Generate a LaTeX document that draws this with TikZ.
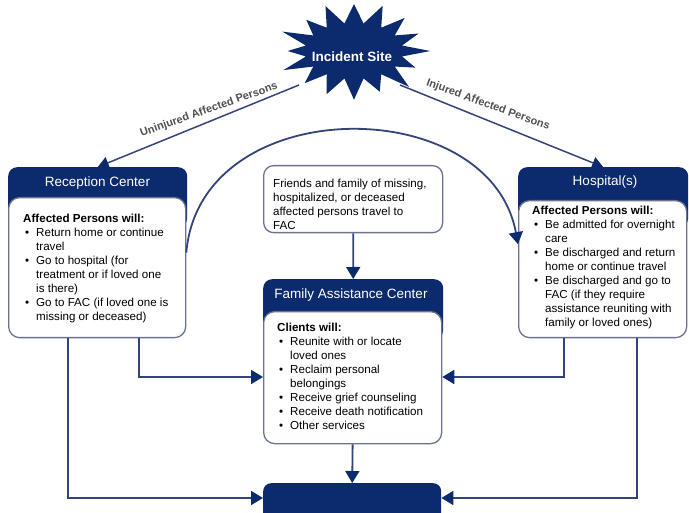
\documentclass[tikz,border=0pt]{standalone}
\usepackage{fontspec}
\setmainfont{Liberation Sans}
\usetikzlibrary{arrows.meta,calc}
\definecolor{navy}{HTML}{0C2A6E}
\definecolor{lineblue}{HTML}{34447A}
\definecolor{boxborder}{HTML}{6B7390}
\definecolor{lblgray}{HTML}{505050}
\newcommand{\bulx}{\makebox[13pt][l]{\hspace{2pt}\textbullet}}
\newcommand{\indx}{\hspace*{13pt}}
\begin{document}
\begin{tikzpicture}[x=1pt,y=-1pt,
  hdr/.style={fill=navy, rounded corners=9pt, inner sep=0, anchor=north west},
  bodybox/.style={fill=white, draw=boxborder, line width=1.3pt, rounded corners=11pt, inner sep=0, anchor=north west},
  hdrtext/.style={text=white, font=\fontsize{13.5}{16}\selectfont, inner sep=0},
  bodytext/.style={align=left, anchor=north west, inner sep=0, font=\fontsize{11.6}{14.1}\selectfont},
  conn/.style={draw=lineblue, line width=1.8pt, -{Triangle[length=12pt,width=14pt,color=navy]}},
  flow/.style={draw=lineblue, line width=1.5pt, -{Triangle[length=11pt,width=12pt,color=navy]}},
  lbl/.style={text=lblgray, font=\bfseries\fontsize{11}{13}\selectfont, inner sep=0}
]
\useasboundingbox (0,0) rectangle (689,513);

% incident site star
\fill[navy] plot[variable=\k, samples at={0,...,31}]
  ({354+(isodd(\k)?49:72*(1+0.08*sin(\k*77)))*cos(90+\k*11.25)},
   {51-(isodd(\k)?28:47*(1+0.08*sin(\k*77)))*sin(90+\k*11.25)}) -- cycle;
\node[font=\bfseries\fontsize{13.5}{16}\selectfont, text=white, inner sep=0] (inc) at (352,57) {Incident Site};
\coordinate (incL) at (299,85);
\coordinate (incR) at (400,85);

% Reception Center
\node[hdr, minimum width=179pt, minimum height=60pt] (rch) at (8,167) {};
\node[bodybox, minimum width=177pt, minimum height=140pt] (rcb) at (8,197) {};
\node[hdrtext] (rct) at (97.5,183) {Reception Center};
\node[bodytext] (rctx) at (23,213.5) {{\bfseries Affected Persons will:}\\
\bulx Return home or continue\\
\indx travel\\
\bulx Go to hospital (for\\
\indx treatment or if loved one\\
\indx is there)\\
\bulx Go to FAC (if loved one is\\
\indx missing or deceased)};

% Hospital
\node[hdr, minimum width=170pt, minimum height=60pt] (hsh) at (518,167) {};
\node[bodybox, minimum width=168pt, minimum height=137pt] (hsb) at (518,200) {};
\node[hdrtext] (hst) at (605,182) {Hospital(s)};
\node[bodytext] (hstx) at (532,205.5) {{\bfseries Affected Persons will:}\\
\bulx Be admitted for overnight\\
\indx care\\
\bulx Be discharged and return\\
\indx home or continue travel\\
\bulx Be discharged and go to\\
\indx FAC (if they require\\
\indx assistance reuniting with\\
\indx family or loved ones)};

% Friends box
\node[bodybox, minimum width=179pt, minimum height=67pt, rounded corners=10pt] (fr) at (263,165) {};
\node[bodytext] (frtx) at (273,178.5) {Friends and family of missing,\\
hospitalized, or deceased\\
affected persons travel to\\
FAC};

% Family Assistance Center
\node[hdr, minimum width=180pt, minimum height=60pt] (fach) at (263,279) {};
\node[bodybox, minimum width=178pt, minimum height=132pt] (facb) at (263,311) {};
\node[hdrtext] (fact) at (351,295) {Family Assistance Center};
\node[bodytext] (factx) at (277,322.5) {{\bfseries Clients will:}\\
\bulx Reunite with or locate\\
\indx loved ones\\
\bulx Reclaim personal\\
\indx belongings\\
\bulx Receive grief counseling\\
\bulx Receive death notification\\
\bulx Other services};

% destination box
\node[hdr, minimum width=178pt, minimum height=45pt, rounded corners=8pt] (dest) at (263,483) {};

% connectors from incident site
\draw[flow] (incL) -- (rch.north);
\draw[flow] (incR) -- (hsh.north);
\node[lbl, rotate=19.5] (lblU) at (209,110) {Uninjured Affected Persons};
\node[lbl, rotate=-19.8] (lblI) at (488,105) {Injured Affected Persons};

% arc from reception to hospital
\draw[conn] ([yshift=15pt]rcb.east) .. controls (200,91) and (490,91) .. ([yshift=25pt]hsb.west);

% friends to FAC
\draw[conn] (fr.south) -- (fach.north);

% lower connectors
\draw[conn] (rcb.south -| 139,0) |- (facb.west |- 0,377);
\draw[conn] (rcb.south -| 68,0) |- (dest.west |- 0,498);
\draw[conn] (hsb.south -| 564,0) |- (facb.east |- 0,377);
\draw[conn] (hsb.south -| 637,0) |- (dest.east |- 0,498);
\draw[conn] (facb.south) -- (dest.north);
\end{tikzpicture}
\end{document}
